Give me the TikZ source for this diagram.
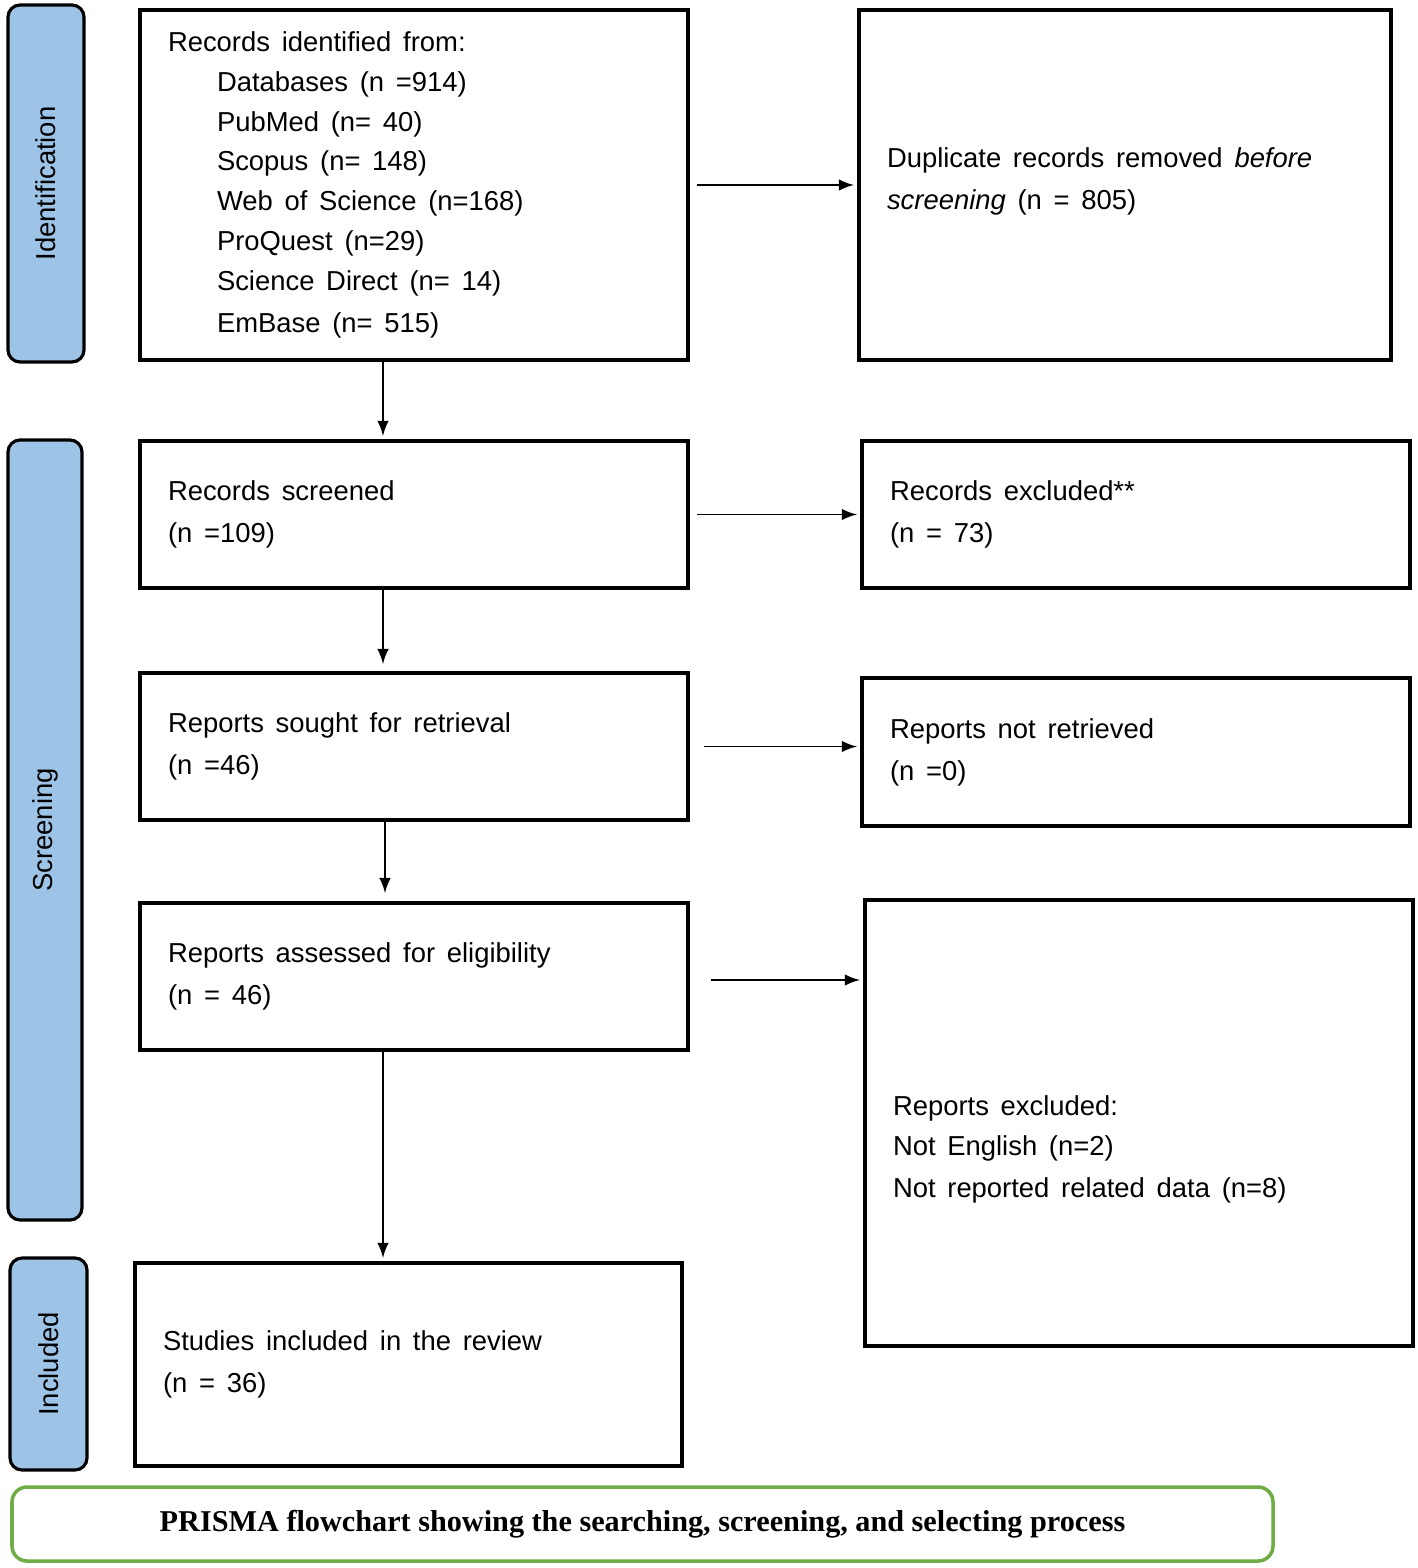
\documentclass[tikz,border=0pt]{standalone}
\usepackage{fontspec}
\setmainfont{Liberation Sans}
\newfontfamily\capfont{Liberation Serif}
\usetikzlibrary{positioning}
\definecolor{stageblue}{HTML}{9DC3E6}
\definecolor{capgreen}{HTML}{70AD47}
\tikzset{
  box/.style={draw,line width=0.9pt,inner xsep=0.28cm,align=left,anchor=center},
  stage/.style={draw,line width=0.9pt,fill=stageblue,rounded corners=0.12cm,rotate=90},
  flow/.style={-latex,line width=0.5pt,shorten >=1pt}
}
\newcommand{\boxtext}{\fontsize{7.8pt}{11.3pt}\selectfont}
\begin{document}
\begin{tikzpicture}
\useasboundingbox (0,0) rectangle (14.18,-15.68);

% stages
\node[stage,minimum width=3.57cm,minimum height=0.76cm] (ident) at (0.46,-1.835) {\boxtext Identification};
\node[stage,minimum width=7.80cm,minimum height=0.74cm] (screen) at (0.45,-8.30) {\boxtext Screening};
\node[stage,minimum width=2.12cm,minimum height=0.77cm] (incl) at (0.485,-13.64) {\boxtext Included};

% boxes
\node[box,minimum width=5.48cm,minimum height=3.50cm,text width=4.92cm] (records) at (4.14,-1.85) {\boxtext Records identified from:\\
\hspace*{0.49cm}Databases (n =914)\\
\hspace*{0.49cm}PubMed (n= 40)\\
\hspace*{0.49cm}Scopus (n= 148)\\
\hspace*{0.49cm}Web of Science (n=168)\\
\hspace*{0.49cm}ProQuest (n=29)\\
\hspace*{0.49cm}Science Direct (n= 14)\\
\hspace*{0.49cm}EmBase (n= 515)};
\node[box,minimum width=5.32cm,minimum height=3.50cm,text width=4.76cm,text depth=0.55cm] (dup) at (11.25,-1.85) {\boxtext Duplicate records removed \textit{before}\\ \textit{screening} (n = 805)};
\node[box,minimum width=5.48cm,minimum height=1.47cm,text width=4.92cm] (screened) at (4.14,-5.145) {\boxtext Records screened\\(n =109)};
\node[box,minimum width=5.48cm,minimum height=1.47cm,text width=4.92cm] (recexcl) at (11.36,-5.145) {\boxtext Records excluded**\\(n = 73)};
\node[box,minimum width=5.48cm,minimum height=1.47cm,text width=4.92cm] (sought) at (4.14,-7.465) {\boxtext Reports sought for retrieval\\(n =46)};
\node[box,minimum width=5.48cm,minimum height=1.48cm,text width=4.92cm] (notret) at (11.36,-7.52) {\boxtext Reports not retrieved\\(n =0)};
\node[box,minimum width=5.48cm,minimum height=1.47cm,text width=4.92cm] (assessed) at (4.14,-9.765) {\boxtext Reports assessed for eligibility\\(n = 46)};
\node[box,minimum width=5.48cm,minimum height=4.46cm,text width=4.92cm,text depth=0.35cm] (repexcl) at (11.39,-11.23) {\boxtext Reports excluded:\\Not English (n=2)\\Not reported related data (n=8)};
\node[box,minimum width=5.47cm,minimum height=2.03cm,text width=4.91cm] (included) at (4.085,-13.645) {\boxtext Studies included in the review\\(n = 36)};

% caption
\node[draw=capgreen,line width=1pt,rounded corners=0.15cm,minimum width=12.61cm,minimum height=0.74cm] (caption) at (6.425,-15.24) {\capfont\bfseries\fontsize{8.6pt}{10pt}\selectfont PRISMA flowchart showing the searching, screening, and selecting process};

% arrows
\coordinate (spine) at (3.83,0);
\draw[flow] (records.south -| spine) -- (screened.north -| spine);
\draw[flow] (screened.south -| spine) -- ++(0,-0.78);
\draw[flow] (sought.south -| 3.85,0) -- ++(0,-0.75);
\draw[flow] (assessed.south -| spine) -- (included.north -| spine);
\draw[flow,shorten <=2pt] (records.east) -- (dup.west);
\draw[flow,shorten <=2pt] (screened.east) -- (recexcl.west);
\draw[flow,shorten <=4pt] (sought.east) -- (sought.east -| notret.west);
\draw[flow,shorten <=6pt] ([yshift=-0.035cm]assessed.east) -- ([yshift=-0.035cm]assessed.east -| repexcl.west);
\end{tikzpicture}
\end{document}
